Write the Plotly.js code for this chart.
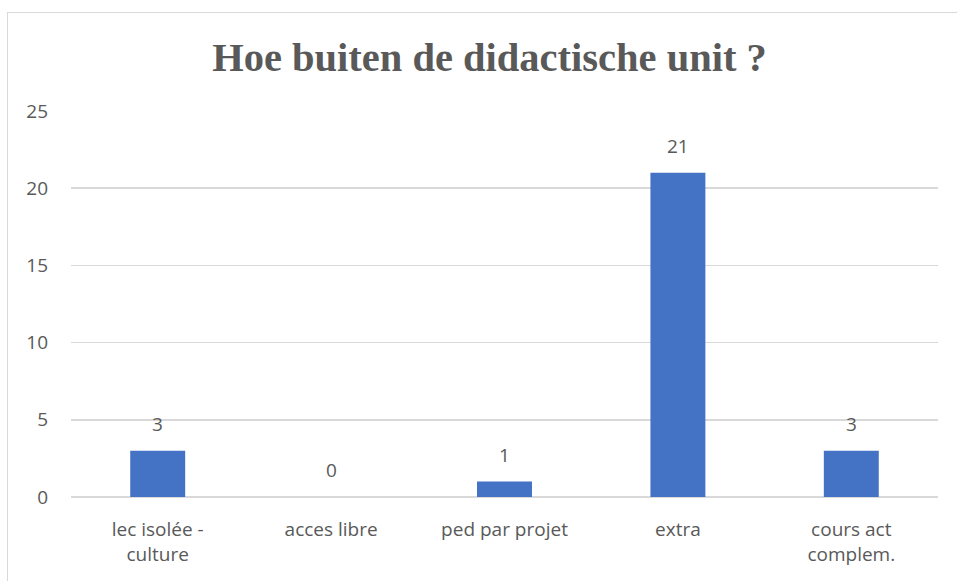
<!DOCTYPE html>
<html>
<head>
<meta charset="utf-8">
<script src="https://cdn.plot.ly/plotly-3.0.1.min.js"></script>
<style>
  html, body { margin: 0; padding: 0; background: #ffffff; }
  #wrap { position: relative; width: 957px; height: 581px; overflow: hidden; }
  #chart { width: 957px; height: 581px; }
  #frame { position: absolute; left: 7px; top: 12px; width: 980px; height: 600px;
           border-left: 1.5px solid #d9d9d9; border-top: 1.5px solid #d9d9d9; pointer-events: none; }
</style>
</head>
<body>
<div id="wrap">
  <div id="chart"></div>
  <div id="frame"></div>
</div>
<script>
const categories = ["lec isolée -<br>culture", "acces libre", "ped par projet", "extra", "cours act<br>complem."];
const values = [3, 0, 1, 21, 3];
const yTicks = [0, 5, 10, 15, 20, 25];
const titleText = "Hoe buiten de didactische unit ?";

const textColor = "#595959";
const bodyFont = "'Open Sans', 'Noto Sans', sans-serif";

const trace = {
  type: "bar",
  x: categories,
  y: values,
  marker: { color: "#4472C4" },
  hoverinfo: "none",
  cliponaxis: false
};

const annotations = categories.map((c, i) => ({
  x: c, y: values[i], xref: "x", yref: "y",
  text: String(values[i]),
  showarrow: false, yanchor: "bottom", yshift: 12,
  font: { family: bodyFont, size: 19, color: textColor }
}));

const layout = {
  width: 957, height: 581,
  margin: { l: 71, r: 19, t: 111, b: 84 },
  paper_bgcolor: "#ffffff", plot_bgcolor: "#ffffff",
  bargap: 0.683,
  showlegend: false,
  title: {
    text: "<b>" + titleText + "</b>",
    font: { family: "'Liberation Serif', 'Times New Roman', serif", size: 40.5, color: textColor },
    x: 0.4827, xanchor: "center", xref: "paper",
    y: 1 - 57 / 581, yanchor: "middle", yref: "container"
  },
  xaxis: {
    type: "category",
    showgrid: false, showline: false, zeroline: false,
    ticks: "", ticklabelstandoff: 19,
    tickfont: { family: bodyFont, size: 19, color: textColor }
  },
  yaxis: {
    range: [0, 25], tickvals: yTicks, ticktext: yTicks.map(String),
    showgrid: true, gridcolor: "#d9d9d9", gridwidth: 1.5,
    zeroline: true, zerolinecolor: "#d9d9d9", zerolinewidth: 1.5,
    showline: false, ticks: "", ticklabelstandoff: 22,
    tickfont: { family: bodyFont, size: 19, color: textColor }
  },
  annotations: annotations
};

Plotly.newPlot("chart", [trace], layout, { displayModeBar: false, staticPlot: true });
</script>
</body>
</html>
